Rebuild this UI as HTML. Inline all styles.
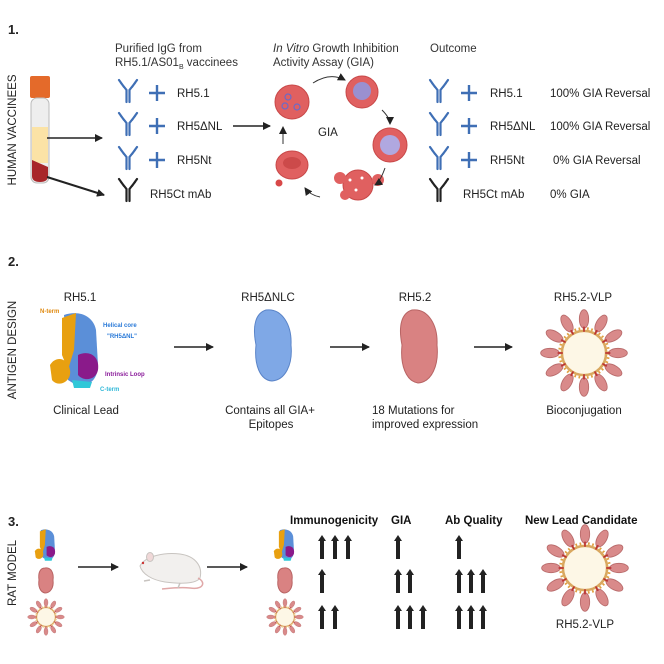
<!DOCTYPE html>
<html><head><meta charset="utf-8"><style>
html,body{margin:0;padding:0;background:#fff;}
svg{display:block;font-family:"Liberation Sans",Arial,sans-serif;}
</style></head><body>
<svg width="664" height="664" viewBox="0 0 664 664" xmlns="http://www.w3.org/2000/svg">
<defs>
<marker id="ah" markerWidth="8" markerHeight="8" refX="7" refY="4" orient="auto" markerUnits="userSpaceOnUse"><path d="M0,0 L8,4 L0,8 z" fill="#222"/></marker>
<g id="abB" fill="none" stroke="#3f6fb5" stroke-width="2.2" stroke-linecap="round">
<path d="M-1.5,14 V2 L-7,-5 M1.5,14 V2 L7,-5 M-4,-1 L-9,-8 M4,-1 L9,-8"/></g>
<g id="abK" fill="none" stroke="#222" stroke-width="2.2" stroke-linecap="round">
<path d="M-1.5,14 V2 L-7,-5 M1.5,14 V2 L7,-5 M-4,-1 L-9,-8 M4,-1 L9,-8"/></g>
<g id="plus" stroke="#3f6fb5" stroke-width="2.4"><path d="M-8,0 H8 M0,-8 V8"/></g>
<g id="up" fill="#222"><rect x="-2" y="5" width="4" height="19"/><path d="M-4,6 L0,0 L4,6 z"/></g>
<g id="petal"><ellipse cx="0" cy="-40" rx="5.5" ry="11" fill="#d98a8a" stroke="#b86a6a" stroke-width="1"/><rect x="-1" y="-31" width="2" height="6" fill="#b33"/></g>
<g id="vlp">
<circle r="26" fill="#fdf7e6" stroke="#d9a860" stroke-width="3"/>
<circle r="29" fill="none" stroke="#e0a040" stroke-width="3" stroke-dasharray="2 3"/>
<use href="#petal" transform="rotate(0)"/><use href="#petal" transform="rotate(30)"/><use href="#petal" transform="rotate(60)"/><use href="#petal" transform="rotate(90)"/><use href="#petal" transform="rotate(120)"/><use href="#petal" transform="rotate(150)"/><use href="#petal" transform="rotate(180)"/><use href="#petal" transform="rotate(210)"/><use href="#petal" transform="rotate(240)"/><use href="#petal" transform="rotate(270)"/><use href="#petal" transform="rotate(300)"/><use href="#petal" transform="rotate(330)"/>
</g>
<g id="rh51">
<path d="M16,5 C30,0 45,5 48,20 L50,55 C50,70 40,78 28,75 L20,70 Z" fill="#5b8fd8"/>
<path d="M14,8 L28,3 L26,40 L20,60 L14,45 Z" fill="#e8a010"/>
<path d="M2,55 C8,45 20,48 22,60 C24,72 10,78 4,70 Z" fill="#e8a010"/>
<path d="M30,45 C40,40 52,45 50,60 C48,70 36,72 30,65 Z" fill="#8a1a8a"/>
<path d="M24,70 L44,72 L42,78 L26,78 Z" fill="#30c8d8"/>
</g>
</defs>

<!-- Section 1 -->
<text x="8" y="34" font-size="13" font-weight="bold" fill="#222">1.</text>
<text transform="translate(16,130) rotate(-90)" text-anchor="middle" font-size="11.5" fill="#222">HUMAN VACCINEES</text>
<rect x="30" y="76" width="20" height="22" rx="2" fill="#e46a2a"/>
<rect x="31" y="98" width="18" height="85" rx="6" fill="#eeeeee" stroke="#bbb"/>
<rect x="32" y="127" width="16" height="36" fill="#fbe3a6"/>
<path d="M32,160 L48,167 L48,176 Q48,182 40,182 Q32,182 32,176 Z" fill="#a8262a"/>
<line x1="47" y1="138" x2="102" y2="138" stroke="#222" stroke-width="1.5" marker-end="url(#ah)"/>
<line x1="47" y1="177" x2="104" y2="195" stroke="#222" stroke-width="2" marker-end="url(#ah)"/>

<text x="115" y="52" font-size="11.5" fill="#333">Purified IgG from</text>
<text x="115" y="66" font-size="11.5" fill="#333">RH5.1/AS01<tspan font-size="7" dy="3">B</tspan><tspan dy="-3"> vaccinees</tspan></text>
<use href="#abB" x="128" y="88"/><use href="#plus" x="157" y="93"/><text x="177" y="97" font-size="11.5" fill="#222">RH5.1</text>
<use href="#abB" x="128" y="121"/><use href="#plus" x="157" y="126"/><text x="177" y="130" font-size="11.5" fill="#222">RH5ΔNL</text>
<use href="#abB" x="128" y="155"/><use href="#plus" x="157" y="160"/><text x="177" y="164" font-size="11.5" fill="#222">RH5Nt</text>
<use href="#abK" x="128" y="187"/><text x="150" y="198" font-size="11.5" fill="#222">RH5Ct mAb</text>
<line x1="233" y1="126" x2="270" y2="126" stroke="#222" stroke-width="1.5" marker-end="url(#ah)"/>

<text x="273" y="52" font-size="11.5" fill="#333"><tspan font-style="italic">In Vitro</tspan> Growth Inhibition</text>
<text x="273" y="66" font-size="11.5" fill="#333">Activity Assay (GIA)</text>
<circle cx="292" cy="102" r="17" fill="#e06060" stroke="#c84848"/>
<circle cx="288" cy="97" r="3" fill="none" stroke="#6a6ac8" stroke-width="1.2"/><circle cx="285" cy="106" r="3" fill="none" stroke="#6a6ac8" stroke-width="1.2"/><circle cx="297" cy="107" r="3" fill="none" stroke="#6a6ac8" stroke-width="1.2"/>
<circle cx="362" cy="92" r="16" fill="#e06060" stroke="#c84848"/><circle cx="362" cy="91" r="9" fill="#9a90d0"/>
<circle cx="390" cy="145" r="17" fill="#e06060" stroke="#c84848"/><circle cx="390" cy="145" r="10" fill="#b0a8e0"/>
<circle cx="358" cy="185" r="15" fill="#e06060" stroke="#c84848"/><circle cx="340" cy="178" r="6" fill="#e06060"/><circle cx="378" cy="180" r="6" fill="#e06060"/><circle cx="345" cy="195" r="5" fill="#e06060"/>
<circle cx="350" cy="180" r="1.5" fill="#fff"/><circle cx="362" cy="178" r="1.5" fill="#fff"/><circle cx="356" cy="190" r="1.5" fill="#fff"/>
<ellipse cx="292" cy="165" rx="16" ry="14" fill="#e06060" stroke="#c84848"/><ellipse cx="292" cy="163" rx="9" ry="6" fill="#cc4a4a"/>
<circle cx="279" cy="183" r="3.5" fill="#d84848"/>
<text x="318" y="136" font-size="11.5" fill="#222">GIA</text>
<path d="M313,83 Q330,72 345,80" fill="none" stroke="#333" stroke-width="1" marker-end="url(#ah)"/>
<path d="M382,110 Q390,118 390,124" fill="none" stroke="#333" stroke-width="1" marker-end="url(#ah)"/>
<path d="M385,168 Q380,182 375,185" fill="none" stroke="#333" stroke-width="1" marker-end="url(#ah)"/>
<path d="M320,197 Q310,195 305,188" fill="none" stroke="#333" stroke-width="1" marker-end="url(#ah)"/>
<path d="M283,144 L283,127" fill="none" stroke="#333" stroke-width="1" marker-end="url(#ah)"/>

<text x="430" y="52" font-size="11.5" fill="#333">Outcome</text>
<use href="#abB" x="439" y="88"/><use href="#plus" x="469" y="93"/><text x="490" y="97" font-size="11.5" fill="#222">RH5.1</text><text x="550" y="97" font-size="11.5" fill="#222">100% GIA Reversal</text>
<use href="#abB" x="439" y="121"/><use href="#plus" x="469" y="126"/><text x="490" y="130" font-size="11.5" fill="#222">RH5ΔNL</text><text x="550" y="130" font-size="11.5" fill="#222">100% GIA Reversal</text>
<use href="#abB" x="439" y="155"/><use href="#plus" x="469" y="160"/><text x="490" y="164" font-size="11.5" fill="#222">RH5Nt</text><text x="553" y="164" font-size="11.5" fill="#222">0% GIA Reversal</text>
<use href="#abK" x="439" y="187"/><text x="463" y="198" font-size="11.5" fill="#222">RH5Ct mAb</text><text x="550" y="198" font-size="11.5" fill="#222">0% GIA</text>

<!-- Section 2 -->
<text x="8" y="266" font-size="13" font-weight="bold" fill="#222">2.</text>
<text transform="translate(16,350) rotate(-90)" text-anchor="middle" font-size="11.5" fill="#222">ANTIGEN DESIGN</text>
<text x="80" y="301" text-anchor="middle" font-size="11.5" fill="#222">RH5.1</text>
<text x="268" y="301" text-anchor="middle" font-size="11.5" fill="#222">RH5ΔNLC</text>
<text x="415" y="301" text-anchor="middle" font-size="11.5" fill="#222">RH5.2</text>
<text x="583" y="301" text-anchor="middle" font-size="11.5" fill="#222">RH5.2-VLP</text>
<use href="#rh51" x="48" y="310"/>
<text x="40" y="313" font-size="6" font-weight="bold" fill="#e08a10">N-term</text>
<text x="103" y="327" font-size="6" font-weight="bold" fill="#2a7ad8">Helical core</text>
<text x="107" y="338" font-size="6" font-weight="bold" fill="#2a7ad8">"RH5ΔNL"</text>
<text x="105" y="376" font-size="6" font-weight="bold" fill="#8a1a9a">Intrinsic Loop</text>
<text x="100" y="391" font-size="6" font-weight="bold" fill="#30b8d8">C-term</text>
<line x1="174" y1="347" x2="213" y2="347" stroke="#222" stroke-width="1.5" marker-end="url(#ah)"/>
<line x1="330" y1="347" x2="369" y2="347" stroke="#222" stroke-width="1.5" marker-end="url(#ah)"/>
<line x1="474" y1="347" x2="512" y2="347" stroke="#222" stroke-width="1.5" marker-end="url(#ah)"/>
<path d="M266,310 C282,308 292,325 291,345 C293,365 285,380 272,381 C260,380 254,365 256,345 C252,325 256,313 266,310 Z" fill="#7fa8e6" stroke="#5a84c8"/>
<path d="M412,310 C428,308 438,325 437,345 C439,365 432,382 418,383 C406,381 400,365 402,345 C398,325 402,313 412,310 Z" fill="#d98282" stroke="#b86464"/>
<use href="#vlp" transform="translate(584,353) scale(0.85)"/>
<text x="86" y="414" text-anchor="middle" font-size="11.5" fill="#222">Clinical Lead</text>
<text x="270" y="414" text-anchor="middle" font-size="11.5" fill="#222">Contains all GIA+</text>
<text x="271" y="428" text-anchor="middle" font-size="11.5" fill="#222">Epitopes</text>
<text x="372" y="414" font-size="11.5" fill="#222">18 Mutations for</text>
<text x="372" y="428" font-size="11.5" fill="#222">improved expression</text>
<text x="584" y="414" text-anchor="middle" font-size="11.5" fill="#222">Bioconjugation</text>

<!-- Section 3 -->
<text x="8" y="526" font-size="13" font-weight="bold" fill="#222">3.</text>
<text transform="translate(16,573) rotate(-90)" text-anchor="middle" font-size="11.5" fill="#222">RAT MODEL</text>
<use href="#rh51" transform="translate(34,528) scale(0.42)"/>
<path d="M45,568 C51,567 54,573 53,580 C54,588 50,593 45,593 C40,592 38,586 39,580 C38,573 40,568 45,568 Z" fill="#d98282" stroke="#b86464"/>
<use href="#vlp" transform="translate(46,617) scale(0.36)"/>
<line x1="78" y1="567" x2="118" y2="567" stroke="#222" stroke-width="1.5" marker-end="url(#ah)"/>
<path d="M140,566 C145,556 165,552 180,554 C195,556 203,566 200,578 C196,584 180,584 165,582 C152,580 142,574 140,566 Z" fill="#f2f0ee" stroke="#c8c4c0"/>
<ellipse cx="150" cy="557" rx="3.5" ry="4.5" fill="#f0d8d8" stroke="#c8c4c0"/>
<circle cx="143" cy="563" r="1.2" fill="#c33"/>
<path d="M198,578 C206,582 204,590 190,588 C180,587 172,588 162,589" fill="none" stroke="#e0a8a8" stroke-width="1.5"/>
<path d="M150,580 L144,581 M180,583 L178,588" stroke="#c8c4c0" stroke-width="1.5"/>
<line x1="207" y1="567" x2="247" y2="567" stroke="#222" stroke-width="1.5" marker-end="url(#ah)"/>

<text x="290" y="524" font-size="11.5" font-weight="bold" fill="#111">Immunogenicity</text>
<text x="391" y="524" font-size="11.5" font-weight="bold" fill="#111">GIA</text>
<text x="445" y="524" font-size="11.5" font-weight="bold" fill="#111">Ab Quality</text>
<text x="525" y="524" font-size="11.5" font-weight="bold" fill="#111">New Lead Candidate</text>
<use href="#rh51" transform="translate(273,528) scale(0.42)"/>
<path d="M284,568 C290,567 293,573 292,580 C293,588 289,593 284,593 C279,592 277,586 278,580 C277,573 279,568 284,568 Z" fill="#d98282" stroke="#b86464"/>
<use href="#vlp" transform="translate(285,617) scale(0.36)"/>

<use href="#up" x="322" y="535"/><use href="#up" x="335" y="535"/><use href="#up" x="348" y="535"/>
<use href="#up" x="398" y="535"/><use href="#up" x="459" y="535"/>
<use href="#up" x="322" y="569"/><use href="#up" x="398" y="569"/><use href="#up" x="410" y="569"/>
<use href="#up" x="459" y="569"/><use href="#up" x="471" y="569"/><use href="#up" x="483" y="569"/>
<use href="#up" x="322" y="605"/><use href="#up" x="335" y="605"/>
<use href="#up" x="398" y="605"/><use href="#up" x="410" y="605"/><use href="#up" x="423" y="605"/>
<use href="#up" x="459" y="605"/><use href="#up" x="471" y="605"/><use href="#up" x="483" y="605"/>
<use href="#vlp" transform="translate(585,568) scale(0.85)"/>
<text x="585" y="628" text-anchor="middle" font-size="11.5" fill="#222">RH5.2-VLP</text>
</svg>
</body></html>
